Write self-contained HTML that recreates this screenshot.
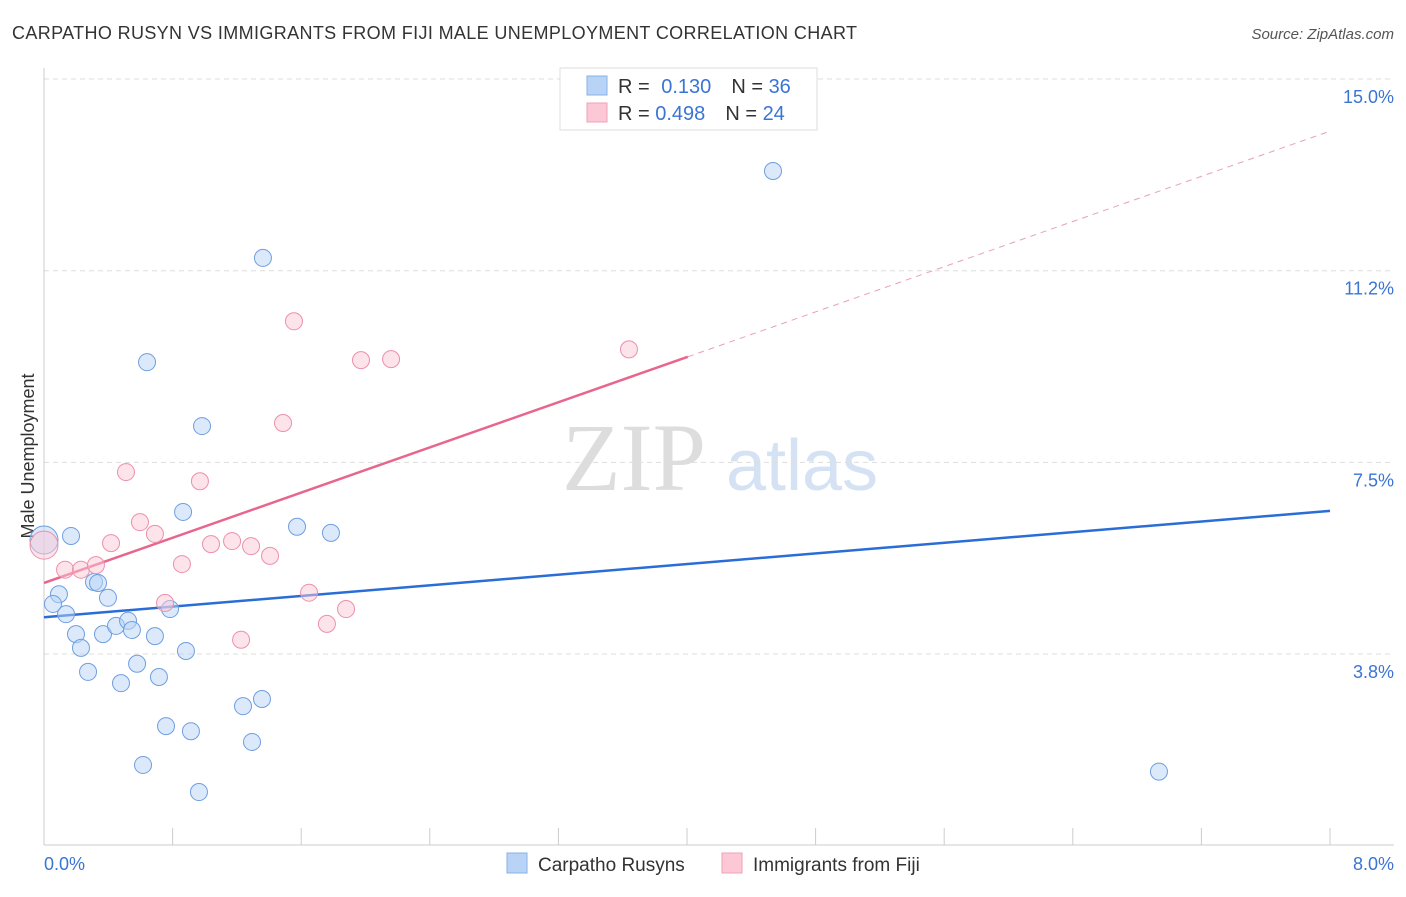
<!DOCTYPE html>
<html><head><meta charset="utf-8"><style>
body{margin:0;background:#fff;font-family:"Liberation Sans",sans-serif;}
svg text{font-family:"Liberation Sans",sans-serif;}
</style></head><body>
<svg id="chart" width="1406" height="892" xmlns="http://www.w3.org/2000/svg">
<text x="12" y="39" font-size="18" fill="#333" textLength="845">CARPATHO RUSYN VS IMMIGRANTS FROM FIJI MALE UNEMPLOYMENT CORRELATION CHART</text>
<text x="1394" y="39" font-size="15" fill="#555" text-anchor="end" font-style="italic">Source: ZipAtlas.com</text>
<text x="34" y="456" font-size="18" fill="#333" text-anchor="middle" transform="rotate(-90 34 456)">Male Unemployment</text>
<g>
<text x="634" y="490" font-size="96" fill="#ddd" text-anchor="middle" font-family="Liberation Serif" style="font-family:'Liberation Serif',serif">ZIP</text>
<text x="802" y="490" font-size="72" fill="#d4e2f4" text-anchor="middle">atlas</text>
</g>
<g id="grid"></g><g id="ticks"></g><g id="lines"></g><g id="pts"></g>
<g>
<rect x="560" y="68" width="257" height="62" fill="#fff" stroke="#ddd"/>
<rect x="587" y="76" width="20" height="19" fill="#b8d3f5" stroke="#88b0e6"/>
<rect x="587" y="103" width="20" height="19" fill="#fcc8d6" stroke="#f0a0b8"/>
<text x="618" y="93" font-size="20" fill="#333">R = <tspan fill="#3a74d4" dx="6">0.130</tspan><tspan dx="20" fill="#333">N = </tspan><tspan fill="#3a74d4">36</tspan></text>
<text x="618" y="120" font-size="20" fill="#333">R = <tspan fill="#3a74d4">0.498</tspan><tspan dx="20" fill="#333">N = </tspan><tspan fill="#3a74d4">24</tspan></text>
</g>
<g>
<rect x="507" y="853" width="20" height="20" fill="#b8d3f5" stroke="#88b0e6"/>
<text x="538" y="871" font-size="19" fill="#333">Carpatho Rusyns</text>
<rect x="722" y="853" width="20" height="20" fill="#fcc8d6" stroke="#f0a0b8"/>
<text x="753" y="871" font-size="19" fill="#333">Immigrants from Fiji</text>
</g>
<text x="44" y="870" font-size="18" fill="#3a74d4">0.0%</text>
<text x="1394" y="870" font-size="18" fill="#3a74d4" text-anchor="end">8.0%</text>
</svg>
<script>
const yTicks=[3.75,7.5,11.25,15];
const yTickLabels=["3.8%","7.5%","11.2%","15.0%"];
const blueX=[0,0.168,0.093,0.056,0.137,0.199,0.230,0.274,0.311,0.336,0.398,0.367,0.448,0.523,0.547,0.479,0.579,0.690,0.715,0.784,0.759,0.616,0.865,0.883,0.914,0.964,0.983,0.641,1.362,1.238,1.356,1.294,1.574,1.785,4.535,6.936];
const blueY=[5.98,6.06,4.92,4.73,4.53,4.14,3.87,3.40,5.16,5.14,4.85,4.14,4.30,4.40,4.22,3.18,3.56,4.10,3.30,4.63,2.34,1.58,6.53,3.81,2.24,1.05,8.21,9.46,11.50,2.73,2.87,2.03,6.24,6.12,13.20,1.45];
const pinkX=[0,0.131,0.230,0.323,0.417,0.510,0.597,0.690,0.858,0.753,0.970,1.039,1.170,1.288,1.406,1.226,1.487,1.555,1.649,1.760,1.879,1.972,2.159,3.639];
const pinkY=[5.88,5.40,5.40,5.49,5.92,7.31,6.33,6.10,5.51,4.75,7.13,5.90,5.96,5.86,5.67,4.03,8.27,10.26,4.95,4.34,4.63,9.50,9.52,9.71];
const blueLine=[4.47,6.55];
const pinkLine=[5.14,13.98];
const pinkSolidEnd=4.005;
const NS="http://www.w3.org/2000/svg";
const X=v=>44+v/8*1286, Y=v=>845.7-v/3.75*191.67;
function mk(p,t,a){const e=document.createElementNS(NS,t);for(const k in a)e.setAttribute(k,a[k]);document.getElementById(p).appendChild(e);return e;}
yTicks.forEach((t,i)=>{
 const l=mk('grid','line',{x1:44,x2:1394,y1:Y(t),y2:Y(t),stroke:'#ddd','stroke-dasharray':'5,4'});
 
 
 const tx=mk('grid','text',{x:1394,y:Y(t)+24,'font-size':18,fill:'#3a74d4','text-anchor':'end'});
 tx.textContent=yTickLabels[i];
 
 
});
const ax=mk('ticks','line',{x1:44,x2:44,y1:68,y2:845,stroke:'#ccc'});


const bx=mk('ticks','line',{x1:44,x2:1394,y1:845,y2:845,stroke:'#ccc'});


for(let i=0;i<=10;i++){const l=mk('ticks','line',{x1:X(i*0.8),x2:X(i*0.8),y1:828,y2:845,stroke:'#ccc'});
 
 }
function pts(xs,ys,fill,stroke,name){xs.forEach((x,i)=>{const c=mk('pts','circle',{cx:X(x),cy:Y(ys[i]),r:i==0?14:8.5,fill:fill,stroke:stroke,'stroke-width':1,'fill-opacity':0.5});
 
 });}
pts(blueX,blueY,'#b8d3f5','#6f9fe0','carpatho-point');
pts(pinkX,pinkY,'#fcc8d6','#ec90ac','fiji-point');
const b=mk('lines','line',{x1:X(0),y1:Y(blueLine[0]),x2:X(8),y2:Y(blueLine[1]),stroke:'#2a6dd6','stroke-width':2.5});


const ym=pinkLine[0]+(pinkLine[1]-pinkLine[0])*pinkSolidEnd/8;
const p=mk('lines','line',{x1:X(0),y1:Y(pinkLine[0]),x2:X(pinkSolidEnd),y2:Y(ym),stroke:'#e8668e','stroke-width':2.5});


const pd=mk('lines','line',{x1:X(pinkSolidEnd),y1:Y(ym),x2:X(8),y2:Y(pinkLine[1]),stroke:'#e8a0b8','stroke-width':1,'stroke-dasharray':'6,5'});


</script>
</body></html>
